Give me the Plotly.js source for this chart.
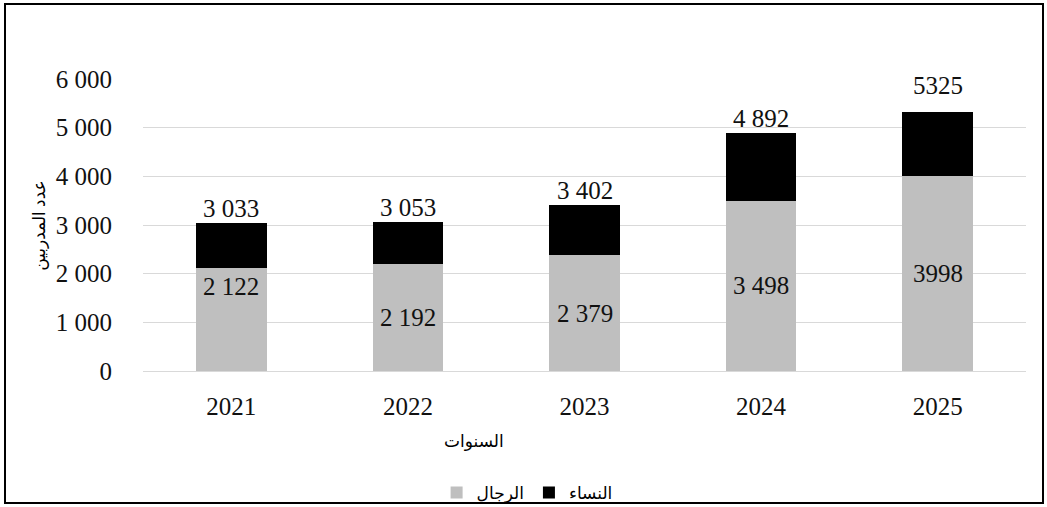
<!DOCTYPE html>
<html>
<head>
<meta charset="utf-8">
<script src="https://cdn.plot.ly/plotly-3.0.1.min.js"></script>
<style>
  html, body { margin: 0; padding: 0; background: #fff; }
  #frame { position: absolute; left: 4px; top: 3px; width: 1040px; height: 501px; box-sizing: border-box; border: 2px solid #000; }
  #chart { width: 1036px; height: 497px; }
</style>
</head>
<body>
<div id="frame"><div id="chart"></div></div>
<script>
const years = ["2021", "2022", "2023", "2024", "2025"];
const men = [2122, 2192, 2379, 3498, 3998];
const women = [911, 861, 1023, 1394, 1327];
const menLabels = ["2 122", "2 192", "2 379", "3 498", "3998"];
const totalLabels = ["3 033", "3 053", "3 402", "4 892", "5325"];
const yTicks = [0, 1000, 2000, 3000, 4000, 5000, 6000];
const yTickLabels = ["0", "1 000", "2 000", "3 000", "4 000", "5 000", "6 000"];
const menName = "الرجال";
const womenName = "النساء";
const xTitle = "السنوات";
const yTitle = "عدد المدربين";

const FONT = "Liberation Serif, DejaVu Serif, DejaVu Sans, serif";
const totals = men.map((m, i) => m + women[i]);

const traces = [
  { type: "bar", x: years, y: men, name: menName, marker: { color: "#bfbfbf" }, hoverinfo: "none" },
  { type: "bar", x: years, y: women, name: womenName, marker: { color: "#000000" }, hoverinfo: "none" }
];

const annotations = [];
years.forEach((yr, i) => {
  annotations.push({
    x: i, y: men[i] / 2, xref: "x", yref: "y", text: menLabels[i], showarrow: false,
    font: { family: FONT, size: 25, color: "#111" }, yshift: i === 0 ? 33 : 0
  });
  annotations.push({
    x: i, y: totals[i], xref: "x", yref: "y", text: totalLabels[i], showarrow: false,
    yanchor: "bottom", font: { family: FONT, size: 25, color: "#111" }, yshift: i === 4 ? 11 : -1
  });
});
annotations.push({
  x: 0.375, y: -0.281, xref: "paper", yref: "paper", text: xTitle, showarrow: false,
  font: { family: FONT, size: 17, color: "#000" }
});
annotations.push({
  x: -0.131, y: 0.5, xref: "paper", yref: "paper", text: yTitle, showarrow: false, textangle: -90,
  font: { family: FONT, size: 17, color: "#000" }
});

const layout = {
  width: 1036, height: 497,
  margin: { l: 137, r: 16, t: 74, b: 131, autoexpand: false },
  paper_bgcolor: "#fff", plot_bgcolor: "#fff",
  barmode: "stack", bargap: 0.6,
  font: { family: FONT, color: "#000" },
  showlegend: true,
  legend: {
    orientation: "h", x: 0.435, xanchor: "center", y: -0.418, yanchor: "middle",
    font: { family: FONT, size: 17, color: "#000" }, traceorder: "normal"
  },
  xaxis: {
    type: "category", range: [-0.5, 4.5], showgrid: false, showline: false, zeroline: false,
    ticks: "", tickfont: { family: FONT, size: 25, color: "#111" }, ticklabelstandoff: 18
  },
  yaxis: {
    range: [0, 6000], tickmode: "array", tickvals: yTicks, ticktext: yTickLabels,
    showgrid: true, gridcolor: "#d9d9d9", gridwidth: 1, zeroline: true, zerolinecolor: "#d9d9d9",
    showline: false, ticks: "", tickfont: { family: FONT, size: 25, color: "#111" }, ticklabelstandoff: 30
  },
  annotations: annotations
};

Plotly.newPlot("chart", traces, layout, { displayModeBar: false, staticPlot: true });
</script>
</body>
</html>
